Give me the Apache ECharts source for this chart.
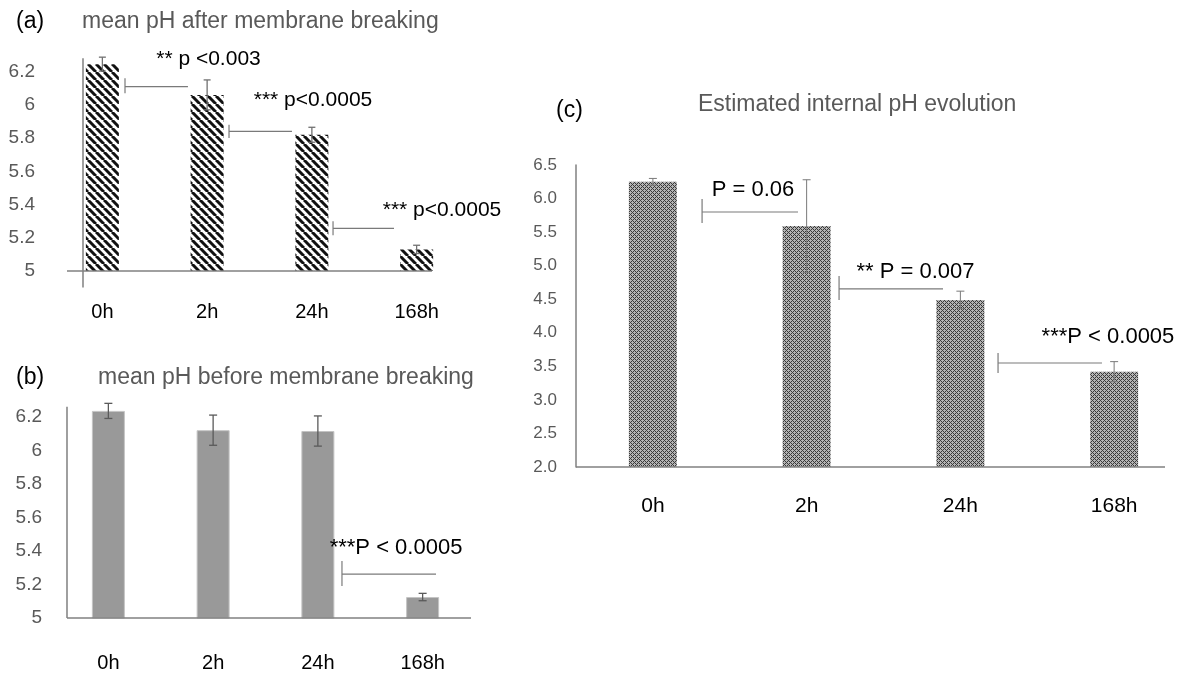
<!DOCTYPE html>
<html>
<head>
<meta charset="utf-8">
<script src="https://cdn.jsdelivr.net/npm/echarts@6/dist/echarts.min.js"></script>
<style>
html,body{margin:0;padding:0;background:#fff;overflow:hidden;width:1177px;height:673px;}
#main{width:1200px;height:673px;}
</style>
</head>
<body>
<div id="main"></div>
<script>
// ---------------- DATA ----------------
const categories = ['0h', '2h', '24h', '168h'];

// (a) mean pH after membrane breaking
const afterMean = [6.245, 6.06, 5.82, 5.13];
const afterErr  = [0.042, 0.09, 0.045, 0.025];

// (b) mean pH before membrane breaking
const beforeMean = [6.235, 6.12, 6.115, 5.125];
const beforeErr  = [0.045, 0.09, 0.09, 0.022];

// (c) estimated internal pH evolution
const internalMean = [6.25, 5.59, 4.49, 3.42];
const internalErr  = [0.05, 0.69, 0.13, 0.15];

// y-axis ticks
const ticksAB = { min: 5, max: 6.3, interval: 0.2 };
const ticksC  = { min: 2, max: 6.5, interval: 0.5 };

// significance labels
const sigA = ['** p <0.003', '*** p<0.0005', '*** p<0.0005'];
const sigB = ['***P < 0.0005'];
const sigC = ['P = 0.06', '** P = 0.007', '***P < 0.0005'];

const titles = ['mean pH after membrane breaking', 'mean pH before membrane breaking', 'Estimated internal pH evolution'];
const panelTags = ['(a)', '(b)', '(c)'];

// ---------------- LAYOUT (annotation placement, in axis units) ----------------
// x in band units (0..4 across the category axis), y in pH units
const layoutA = {
  axes: [[0.162, 5, 3.647, 5], [0.315, 4.9, 0.315, 6.28]],
  brackets: [
    { x1: 0.716, x2: 1.317, y: 6.11, lo: 6.07, hi: 6.16 },
    { x1: 1.709, x2: 2.310, y: 5.84, lo: 5.80, hi: 5.88 },
    { x1: 2.702, x2: 3.284, y: 5.257, lo: 5.215, hi: 5.30 }
  ],
  texts: [[1.513, 6.275], [2.511, 6.028], [3.742, 5.365]]
};
const layoutB = {
  axes: [[0.105, 5, 3.962, 5], [0.105, 5, 0.105, 6.26]],
  brackets: [{ x1: 2.730, x2: 3.628, y: 5.262, lo: 5.191, hi: 5.340 }],
  texts: [[3.246, 5.417]]
};
const layoutC = {
  axes: [[0, 2, 3.831, 2]],
  brackets: [
    { x1: 0.820, x2: 1.444, y: 5.80, lo: 5.636, hi: 5.994 },
    { x1: 1.711, x2: 2.387, y: 4.653, lo: 4.489, hi: 4.846 },
    { x1: 2.745, x2: 3.421, y: 3.55, lo: 3.401, hi: 3.699 }
  ],
  texts: [[1.151, 6.128], [2.208, 4.906], [3.460, 3.937]]
};

// ---------------- PATTERNS ----------------
function stripePattern() {
  const c = document.createElement('canvas');
  c.width = 8; c.height = 8;
  const g = c.getContext('2d');
  g.fillStyle = '#ffffff'; g.fillRect(0, 0, 8, 8);
  g.strokeStyle = '#111111'; g.lineWidth = 3;
  [-8, 0, 8].forEach(k => { g.beginPath(); g.moveTo(k, 0); g.lineTo(k + 8, 8); g.stroke(); });
  return c;
}
function hatchPattern() {
  const c = document.createElement('canvas');
  c.width = 4; c.height = 4;
  const g = c.getContext('2d');
  for (let x = 0; x < 4; x++) for (let y = 0; y < 4; y++) {
    const dark = ((x - y) % 4 + 4) % 4 === 0 || (x + y) % 4 === 0;
    g.fillStyle = dark ? '#3a3a3a' : '#b4b4b4';
    g.fillRect(x, y, 1, 1);
  }
  return c;
}

const FONT = "'Liberation Sans', Arial, sans-serif";
const AX = '#808080';

function errorSeries(xi, yi, means, errs, color, cap, lw) {
  return {
    type: 'custom', xAxisIndex: xi, yAxisIndex: yi, z: 10, silent: true,
    data: means.map((m, i) => [i, m - errs[i], m + errs[i]]),
    renderItem: function (params, api) {
      const lo = api.coord([api.value(0), api.value(1)]);
      const hi = api.coord([api.value(0), api.value(2)]);
      const x = hi[0];
      const st = { stroke: color, lineWidth: lw };
      return { type: 'group', children: [
        { type: 'line', shape: { x1: x, y1: lo[1], x2: x, y2: hi[1] }, style: st },
        { type: 'line', shape: { x1: x - cap, y1: hi[1], x2: x + cap, y2: hi[1] }, style: st },
        { type: 'line', shape: { x1: x - cap, y1: lo[1], x2: x + cap, y2: lo[1] }, style: st }
      ]};
    }
  };
}

function annotSeries(xi, yi, layout, labels, fontSize) {
  return {
    type: 'custom', xAxisIndex: xi, yAxisIndex: yi, z: 12, silent: true, clip: false,
    data: [[0, 0]],
    renderItem: function (params, api) {
      const ch = [];
      layout.axes.forEach(a => {
        const p1 = api.coord([a[0], a[1]]), p2 = api.coord([a[2], a[3]]);
        ch.push({ type: 'line', shape: { x1: p1[0], y1: p1[1], x2: p2[0], y2: p2[1] }, style: { stroke: AX, lineWidth: 1.5 } });
      });
      layout.brackets.forEach(b => {
        const a1 = api.coord([b.x1, b.y]), a2 = api.coord([b.x2, b.y]);
        const v1 = api.coord([b.x1, b.lo]), v2 = api.coord([b.x1, b.hi]);
        ch.push({ type: 'line', shape: { x1: a1[0], y1: a1[1], x2: a2[0], y2: a2[1] }, style: { stroke: '#7a7a7a', lineWidth: 1.2 } });
        ch.push({ type: 'line', shape: { x1: v1[0], y1: v1[1], x2: v2[0], y2: v2[1] }, style: { stroke: '#7a7a7a', lineWidth: 1.2 } });
      });
      layout.texts.forEach((t, i) => {
        const p = api.coord(t);
        ch.push({ type: 'text', x: p[0], y: p[1], style: {
          text: labels[i], fill: '#000', font: fontSize + 'px ' + FONT,
          textAlign: 'center', textVerticalAlign: 'middle', align: 'center', verticalAlign: 'middle' } });
      });
      return { type: 'group', children: ch };
    }
  };
}

function catAxis(gi, margin, size) {
  return { type: 'category', gridIndex: gi, data: categories,
    axisLine: { show: false }, axisTick: { show: false },
    axisLabel: { margin: margin, color: '#000', fontSize: size, fontFamily: FONT } };
}
function valXAxis(gi) {
  return { type: 'value', gridIndex: gi, min: 0, max: 4, show: false };
}

const chart = echarts.init(document.getElementById('main'), null, { renderer: 'canvas' });

const stripe = { image: stripePattern(), repeat: 'repeat' };
const hatch = { image: hatchPattern(), repeat: 'repeat' };

function gtext(txt, x, y, size, color) {
  return { type: 'text', x: x, y: y, style: { text: txt, fill: color, font: size + 'px ' + FONT,
    textAlign: 'left', textVerticalAlign: 'middle', align: 'left', verticalAlign: 'middle' } };
}

chart.setOption({
  animation: false,
  backgroundColor: '#ffffff',
  grid: [
    { left: 50, top: 55, width: 419, height: 216 },
    { left: 56, top: 400, width: 419, height: 218 },
    { left: 576, top: 165, width: 615, height: 302 }
  ],
  xAxis: [
    catAxis(0, 31, 20), valXAxis(0),
    catAxis(1, 35, 20), valXAxis(1),
    catAxis(2, 29, 21), valXAxis(2)
  ],
  yAxis: [
    { type: 'value', gridIndex: 0, min: ticksAB.min, max: ticksAB.max, interval: ticksAB.interval,
      axisLine: { show: false }, axisTick: { show: false }, splitLine: { show: false },
      axisLabel: { margin: 15, color: '#595959', fontSize: 19, fontFamily: FONT, showMaxLabel: false } },
    { type: 'value', gridIndex: 1, min: ticksAB.min, max: ticksAB.max, interval: ticksAB.interval,
      axisLine: { show: false }, axisTick: { show: false }, splitLine: { show: false },
      axisLabel: { margin: 14, color: '#595959', fontSize: 19, fontFamily: FONT, showMaxLabel: false } },
    { type: 'value', gridIndex: 2, min: ticksC.min, max: ticksC.max, interval: ticksC.interval,
      axisLine: { show: true, lineStyle: { color: AX, width: 1.5 } }, axisTick: { show: false }, splitLine: { show: false },
      axisLabel: { margin: 19, color: '#595959', fontSize: 17, fontFamily: FONT,
        formatter: v => v.toFixed(1) } }
  ],
  graphic: [
    gtext(panelTags[0], 16, 22, 23, '#000'),
    gtext(titles[0], 82, 22, 23, '#595959'),
    gtext(panelTags[1], 16, 378, 23, '#000'),
    gtext(titles[1], 98, 378, 23, '#595959'),
    gtext(panelTags[2], 556, 111, 23, '#000'),
    gtext(titles[2], 698, 105, 23, '#595959')
  ],
  series: [
    { type: 'bar', xAxisIndex: 0, yAxisIndex: 0, data: afterMean, barWidth: 33,
      itemStyle: { color: stripe } },
    errorSeries(0, 0, afterMean, afterErr, '#707070', 3.5, 1.3),
    annotSeries(1, 0, layoutA, sigA, 21),

    { type: 'bar', xAxisIndex: 2, yAxisIndex: 1, data: beforeMean, barWidth: 33,
      itemStyle: { color: '#999999', borderColor: '#c4c4c4', borderWidth: 1 } },
    errorSeries(2, 1, beforeMean, beforeErr, '#5a5a5a', 4, 1.3),
    annotSeries(3, 1, layoutB, sigB, 22),

    { type: 'bar', xAxisIndex: 4, yAxisIndex: 2, data: internalMean, barWidth: 48,
      itemStyle: { color: hatch } },
    errorSeries(4, 2, internalMean, internalErr, '#7a7a7a', 4, 1),
    annotSeries(5, 2, layoutC, sigC, 22)
  ]
});
</script>
</body>
</html>
